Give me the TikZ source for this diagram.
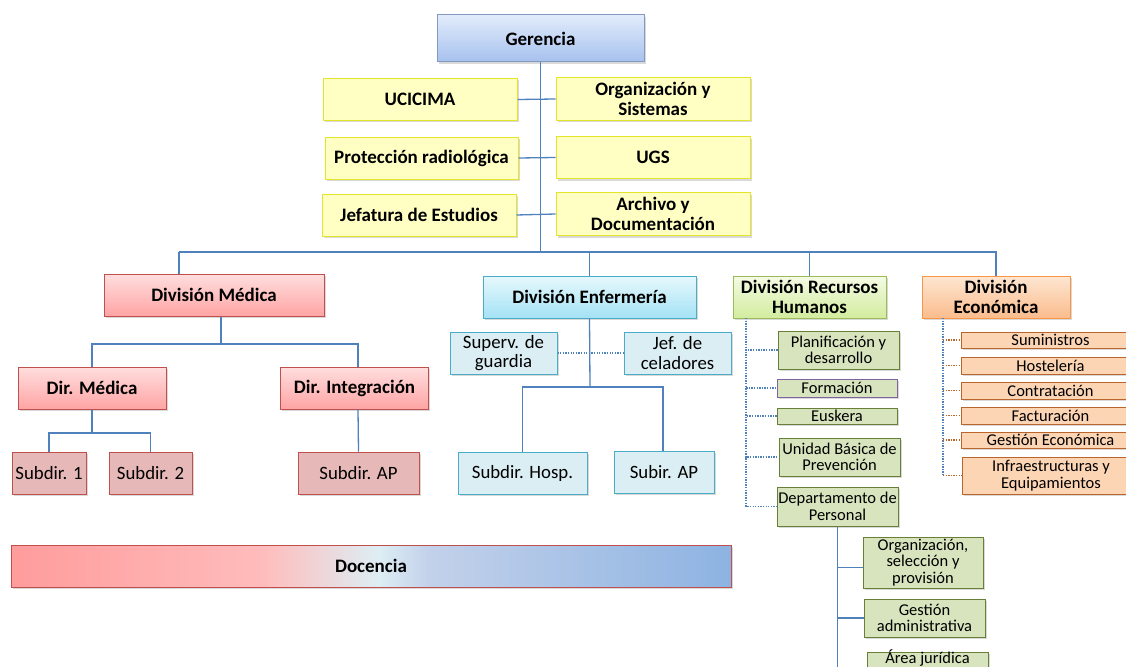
\documentclass[tikz,border=0pt]{standalone}
\usepackage{fontspec}
\setmainfont{Carlito}
\usetikzlibrary{shadows}

\definecolor{lnblue}{HTML}{4F81BD}
\definecolor{gerTop}{HTML}{E2ECFC}
\definecolor{gerBot}{HTML}{A6C1EE}
\definecolor{gerLine}{HTML}{8498C0}
\definecolor{yelFill}{HTML}{FFFFC4}
\definecolor{yelLine}{HTML}{E4E42A}
\definecolor{redTop}{HTML}{FFDEDE}
\definecolor{redBot}{HTML}{FFA4A4}
\definecolor{redLine}{HTML}{C0504D}
\definecolor{redFill}{HTML}{E6B9B8}
\definecolor{cyTop}{HTML}{E6F8FC}
\definecolor{cyBot}{HTML}{A4E2F5}
\definecolor{cyLine}{HTML}{4BACC6}
\definecolor{cyFill}{HTML}{DBEEF4}
\definecolor{grTop}{HTML}{F4FBE4}
\definecolor{grBot}{HTML}{D2EC9E}
\definecolor{grLine}{HTML}{9BBB59}
\definecolor{olFill}{HTML}{D7E4BD}
\definecolor{olLine}{HTML}{687F38}
\definecolor{purLine}{HTML}{8064A2}
\definecolor{orTop}{HTML}{FDE6D2}
\definecolor{orBot}{HTML}{FBBC8C}
\definecolor{orLine}{HTML}{F79646}
\definecolor{orFill}{HTML}{FCD5B5}
\definecolor{brLine}{HTML}{B9652B}
\definecolor{docA}{HTML}{FF9C9C}
\definecolor{docB}{HTML}{FFBCBC}
\definecolor{docC}{HTML}{DDEEF4}
\definecolor{docD}{HTML}{C3D1EA}
\definecolor{docE}{HTML}{8DB3E2}

% the path spans the 25bp..75bp band of the shading
\pgfdeclarehorizontalshading{docshade}{100bp}{%
  color(0bp)=(docA); color(25bp)=(docA); color(42.5bp)=(docB);
  color(50.5bp)=(docC); color(54bp)=(docD); color(75bp)=(docE);
  color(100bp)=(docE)}

\tikzset{
  x=1pt, y=-1pt,
  box/.style={draw, line width=1pt, inner sep=0pt, align=center,
    drop shadow={shadow xshift=1.8pt, shadow yshift=-2pt, opacity=.3}},
  hdr/.style={box, font=\fontsize{19}{20}\selectfont\bfseries},
  mid/.style={box, font=\fontsize{18.8}{19.5}\selectfont},
  sml/.style={box, font=\fontsize{16.5}{16.5}\selectfont},
  gerbox/.style={hdr, draw=gerLine, top color=gerTop, bottom color=gerBot},
  yelbox/.style={hdr, draw=yelLine, fill=yelFill},
  redhdr/.style={hdr, draw=redLine, top color=redTop, bottom color=redBot},
  redsub/.style={mid, draw=redLine, fill=redFill},
  cyhdr/.style={hdr, draw=cyLine, top color=cyTop, bottom color=cyBot},
  cysub/.style={mid, draw=cyLine, fill=cyFill},
  grhdr/.style={hdr, draw=grLine, top color=grTop, bottom color=grBot},
  olsub/.style={sml, draw=olLine, fill=olFill},
  orhdr/.style={hdr, draw=orLine, top color=orTop, bottom color=orBot},
  orsub/.style={sml, draw=brLine, fill=orFill},
  link/.style={draw=lnblue, line width=1.3pt},
  dlink/.style={draw=lnblue, line width=1.3pt, dash pattern=on 1.3pt off 1.3pt},
  dlinkor/.style={draw=brLine, line width=1.3pt, dash pattern=on 1.3pt off 1.3pt},
}

\begin{document}
\begin{tikzpicture}
\useasboundingbox (0,0) rectangle (1126,666);

% --- top level and staff units
\node[gerbox, minimum width=207, minimum height=47] (ger) at (540.5,38.5) {Gerencia};
\node[yelbox, minimum width=194, minimum height=42] (uci)  at (420,99.5)  {UCICIMA};
\node[yelbox, minimum width=194, minimum height=43] (org)  at (653,99)    {Organización y\\Sistemas};
\node[yelbox, minimum width=193, minimum height=42] (prot) at (421.5,158) {Protección radiológica};
\node[yelbox, minimum width=194, minimum height=42] (ugs)  at (653,157.5) {UGS};
\node[yelbox, minimum width=194, minimum height=42] (jef)  at (419,215)   {Jefatura de Estudios};
\node[yelbox, minimum width=194, minimum height=43] (arch) at (653,214)   {Archivo y\\Documentación};

% --- divisions
\node[redhdr, minimum width=220, minimum height=42] (dm)   at (214,295)   {División Médica};
\node[cyhdr,  minimum width=213, minimum height=42] (enf)  at (589.5,297) {División Enfermería};
\node[grhdr,  minimum width=153, minimum height=42] (rrhh) at (809.5,297) {División Recursos\\Humanos};
\node[orhdr,  minimum width=148, minimum height=42] (eco)  at (996,297)   {División\\Económica};

% --- medical branch
\node[redhdr, minimum width=148, minimum height=42] (dmed) at (92,388)    {Dir. Médica};
\node[redhdr, minimum width=148, minimum height=42] (dint) at (354.5,388)  {Dir. Integración};
\node[redsub, minimum width=74,  minimum height=42] (sd1)  at (49,473)    {Subdir. 1};
\node[redsub, minimum width=83,  minimum height=42] (sd2)  at (150.5,473) {Subdir. 2};
\node[redsub, minimum width=121, minimum height=42] (sdap) at (358.5,473) {Subdir. AP};

% --- nursing branch
\node[cysub, minimum width=107, minimum height=42] (sup)  at (503.5,353) {Superv. de\\guardia};
\node[cysub, minimum width=107, minimum height=42] (cel)  at (677.5,353) {Jef. de\\celadores};
\node[cysub, minimum width=129, minimum height=42] (shos) at (522.5,473) {Subdir. Hosp.};
\node[cysub, minimum width=100, minimum height=42] (sap)  at (664,472)   {Subir. AP};

% --- human resources branch
\node[olsub, minimum width=121, minimum height=38] (plan) at (838.5,350) {Planificación y\\desarrollo};
\node[olsub, draw=purLine, minimum width=120, minimum height=18] (form) at (837,388) {Formación};
\node[olsub, minimum width=120, minimum height=16] (eusk) at (837,416) {Euskera};
\node[olsub, minimum width=121, minimum height=38] (ubp)  at (839.5,457) {Unidad Básica de\\Prevención};
\node[olsub, minimum width=121, minimum height=39] (dper) at (837.5,506.5) {Departamento de\\Personal};
\node[olsub, minimum width=120, minimum height=51] (osp)  at (923,562.5) {Organización,\\selección y\\provisión};
\node[olsub, minimum width=121, minimum height=38] (gadm) at (924.5,618) {Gestión\\administrativa};
\node[olsub, anchor=north, minimum width=121, inner ysep=0.5pt,
      text height=11pt, text depth=14pt] (ajur) at (927.5,651.5) {Área jurídica};

% --- economic branch
\node[orsub, minimum width=179, minimum height=16] (sum)  at (1050.5,340)   {Suministros};
\node[orsub, minimum width=179, minimum height=17] (host) at (1050.5,365.5) {Hostelería};
\node[orsub, minimum width=179, minimum height=17] (cont) at (1050.5,390.5) {Contratación};
\node[orsub, minimum width=179, minimum height=17] (fact) at (1050.5,415.5) {Facturación};
\node[orsub, minimum width=179, minimum height=16] (gec)  at (1050.5,440)   {Gestión Económica};
\node[orsub, minimum width=178, minimum height=37] (infr) at (1051,475.5)   {Infraestructuras y\\Equipamientos};

% --- teaching band
\node[hdr, draw=redLine, shading=docshade, minimum width=720, minimum height=42] (doc) at (371,566) {Docencia};

% ===== connectors =====
\coordinate (busL) at (179,252);
\coordinate (busR) at (997,252);
\draw[link] (ger.south) -- (ger.south |- busL);
\draw[link] (busL) -- (busR);
\draw[link] (busL) -- (busL |- dm.north);
\draw[link] (enf.north) -- (enf.north |- busL);
\draw[link] (rrhh.north) -- (rrhh.north |- busL);
\draw[link] (eco.north) -- (eco.north |- busL);

\draw[link] (uci.east) -- (org.west);
\draw[link] (prot.east) -- (ugs.west);
\draw[link] (jef.east) -- (arch.west);

% medical division
\coordinate (dmfork) at (221,344);
\draw[link] (dmfork |- dm.south) -- (dmfork);
\draw[link] (dmfork) -| (dmed.north);
\draw[link] (dmfork) -| ([xshift=3.5]dint.north);
\coordinate (dmedfork) at (94,433);
\draw[link] (dmed.south) -- (dmed.south |- dmedfork);
\draw[link] (dmed.south |- dmedfork) -| (sd1.north);
\draw[link] (dmed.south |- dmedfork) -| (sd2.north);
\draw[link] ([xshift=3.5]dint.south) -- (sdap.north);

% nursing division
\coordinate (enffork) at (590,387);
\draw[link] (enf.south) -- (enffork);
\draw[dlink] (sup.east) -- (cel.west);
\draw[link] (enffork) -| (shos.north);
\draw[link] (enffork) -| ([xshift=-1]sap.north);

% human resources division
\coordinate (rrx) at (746,318);
\foreach \n in {plan,form,eusk,ubp,dper}
  \draw[dlink] (rrx) |- (\n.west);
\draw[link] (dper.south) |- ([yshift=-5]osp.west);
\draw[link] (dper.south) |- (gadm.west);
\draw[link] (dper.south) |- ([yshift=-3]ajur.west);

% economic division
\coordinate (ecx) at (943,318);
\draw[dlink] (ecx) -- (ecx |- infr.west);
\foreach \n in {sum,host,cont,fact,gec,infr}
  \draw[dlinkor] (ecx |- \n.west) -- (\n.west);
\end{tikzpicture}
\end{document}
